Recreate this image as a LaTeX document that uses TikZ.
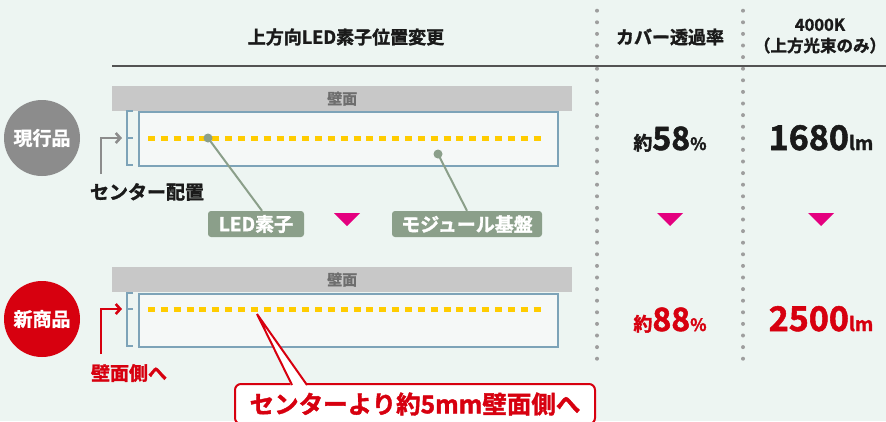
\documentclass[tikz,border=0pt]{standalone}
\usepackage{fontspec}
\setmainfont{Noto Sans CJK JP}[BoldFont={Noto Sans CJK JP Bold},BoldFeatures={FakeBold=1.6}]
\usepackage{tikz}
\usetikzlibrary{
  arrows.meta,  % Tips "Straight Barb"
  positioning,  % Function "of" (e.g. [right=of x])
  calc          % Calculations $...$
}
\definecolor{bgmint}{HTML}{EDF5F2}
\definecolor{wallgray}{HTML}{C8C8C8}
\definecolor{walltext}{HTML}{6E6E6E}
\definecolor{boxblue}{HTML}{7DA3B8}
\definecolor{boxfill}{HTML}{F5F8F7}
\definecolor{ledyellow}{HTML}{FFCC00}
\definecolor{tagreen}{HTML}{8B9F8A}
\definecolor{oldgray}{HTML}{8C8C8C}
\definecolor{newred}{HTML}{D7000F}
\definecolor{markpink}{HTML}{E4007F}
\definecolor{dotgray}{HTML}{9E9E9E}
\definecolor{ink}{HTML}{1A1A1A}
\def\mycolA{597}
\def\mycolB{743}
\def\mydotgap{11.6}
\newcommand{\fs}[1]{\fontsize{#1}{#1}\selectfont}
\newcommand{\downmark}[1]{\fill[markpink] (#1) ++(-13,-6.5) -- ++(26,0) -- ++(-13,13) -- cycle;}
\tikzset{
  font=\bfseries,
  wall/.style={
    fill=wallgray,
    minimum width=460pt,
    minimum height=25pt,
    inner sep=0pt,
    anchor=north west,
    text=walltext,
    font=\bfseries\fs{15}
  },
  module/.style={
    draw=boxblue,
    line width=2pt,
    fill=boxfill,
    minimum width=419pt,
    inner sep=0pt,
    anchor=north west
  },
  bracket/.style={draw=boxblue, line width=2pt},
  ledrow/.style={
    draw=ledyellow,
    line width=5pt,
    dash pattern=on 7pt off 5.85pt
  },
  badge/.style={
    circle,
    minimum size=76pt,
    inner sep=0pt,
    text=white,
    font=\bfseries\fs{19}
  },
  tag/.style={
    fill=tagreen,
    rounded corners=3pt,
    minimum height=26pt,
    inner sep=0pt,
    text=white,
    font=\bfseries\fs{19}
  },
  tagdot/.style={circle, fill=tagreen, minimum size=9pt, inner sep=0pt},
  leadline/.style={draw=tagreen, line width=2pt},
  turn/.style={
    line width=2.6pt,
    -{Straight Barb[length=4.5pt,width=10pt]}
  },
  head/.style={text=ink, font=\bfseries\fontsize{18}{21}\selectfont, align=center},
  value/.style={anchor=base, text=ink}
}

\begin{document}
\begin{tikzpicture}[x=1pt,y=-1pt]
\useasboundingbox[fill=bgmint] (0,0) rectangle (886,421);

% column separators
\foreach \i in {0,...,30}{
  \fill[dotgray] (\mycolA,10.7+\i*\mydotgap) circle (2);
  \fill[dotgray] (\mycolB,10.7+\i*\mydotgap) circle (2);
}

% headings
\node[head] (hpos)  at (346,37) {上方向LED素子位置変更};
\node[head] (hrate) at (670,37) {カバー透過率};
\node[head,font=\bfseries\fontsize{16.5}{21}\selectfont] (hflux) at (820,36) {4000K\\（上方光束のみ）};
\draw[draw=ink!75, line width=1.2pt] (112,66) -- (886,66);

% current product
\node[wall]   (wallA) at (112,86)  {壁面};
\node[module,minimum height=54pt] (boxA) at (138,111) {};
\draw[bracket] (133,111) -- (127,111) -- (127,165) -- (133,165)
               (127,138) -- (133,138);
\draw[ledrow] (148,138) -- (542,138);
\node[tagdot] (ledptA) at (208,138) {};
\node[tagdot] (boardpt) at (438,154) {};
\node[tag,minimum width=96pt]  (ledtag)   at (256,224) {LED素子};
\node[tag,minimum width=150pt] (boardtag) at (467,224) {モジュール基盤};
\draw[leadline] (ledptA.center) -- ([xshift=6pt]ledtag.north);
\draw[leadline] (boardpt.center) -- (boardtag.north);

\node[badge,fill=oldgray] (old) at (42,138) {現行品};
\coordinate (oldfoot) at (101,174);
\coordinate (oldmid)  at (122,138);
\draw[turn,draw=oldgray] (oldfoot) |- (oldmid);
\node[text=ink,font=\bfseries\fs{19}] (oldnote) at (147,192) {センター配置};

\node[value] (rateA) at (670,150) {{\fs{19}約}{\fs{32}58}{\fs{17}\%}};
\node[value] (fluxA) at (821,150) {{\fs{34}1680}{\fs{19}lm}};

% change marks
\downmark{347,219.5}
\downmark{670,219.5}
\downmark{821,219.5}

% new product
\node[wall]   (wallB) at (112,267) {壁面};
\node[module,minimum height=53pt] (boxB) at (138,293) {};
\draw[bracket] (133,293) -- (127,293) -- (127,346) -- (133,346)
               (127,309) -- (133,309);
\draw[ledrow] (148,309) -- (542,309);

\node[badge,fill=newred] (new) at (42,319) {新商品};
\coordinate (newfoot) at (101,354);
\coordinate (newmid)  at (122,309);
\draw[turn,draw=newred] (newfoot) |- (newmid);
\node[text=newred,font=\bfseries\fs{19}] (newnote) at (129,373) {壁面側へ};

\node[value,text=newred] (rateB) at (670,331) {{\fs{19}約}{\fs{32}88}{\fs{17}\%}};
\node[value,text=newred] (fluxB) at (821,331) {{\fs{34}2500}{\fs{19}lm}};

% callout
\node[draw=newred, line width=2pt, fill=white, rounded corners=6pt,
      minimum width=360pt, minimum height=40pt, text=newred,
      font=\bfseries\fs{24.5}] (shift) at (415,404) {センターより約5mm壁面側へ};
\coordinate (tip) at (257,314);
\fill[white] (291.5,386.5) -- (tip) -- (307.5,386.5) -- cycle;
\draw[draw=newred, line width=2pt] (292,385) -- (tip) -- (307,385);
\end{tikzpicture}
\end{document}
